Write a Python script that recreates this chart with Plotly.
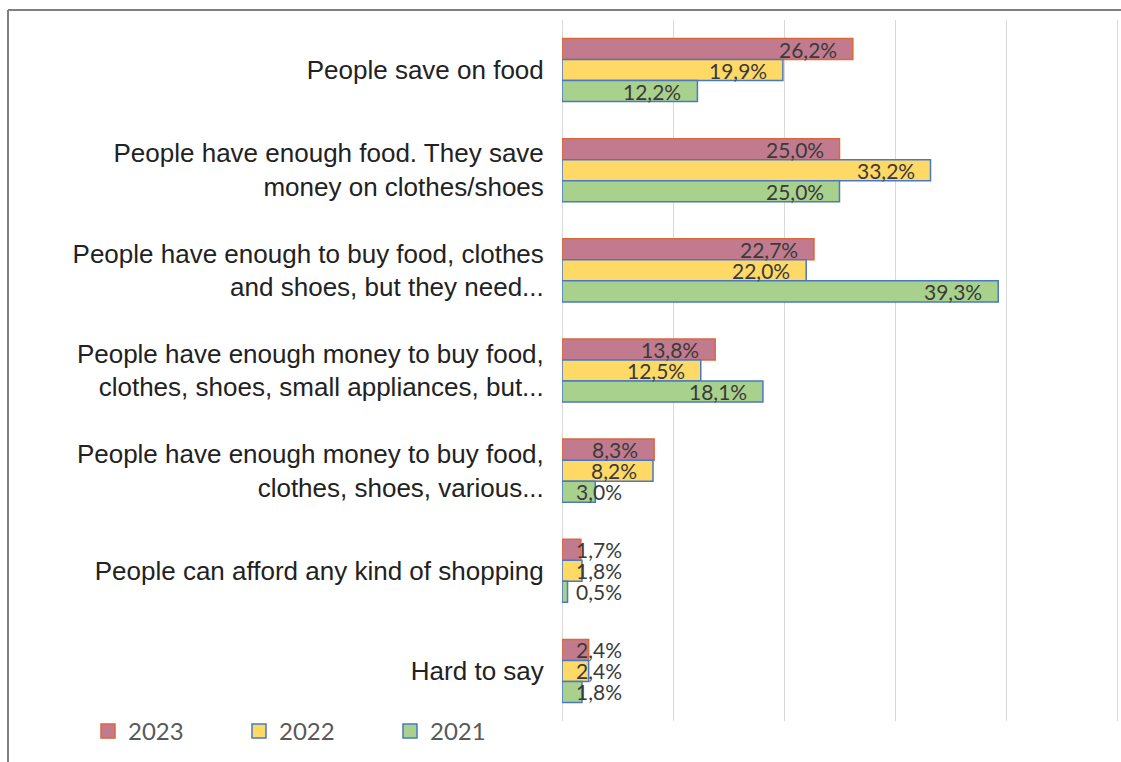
import plotly.graph_objects as go

categories = [
    "People save on food",
    "People have enough food. They save<br>money on clothes/shoes",
    "People have enough to buy food, clothes<br>and shoes, but they need...",
    "People have enough money to buy food,<br>clothes, shoes, small appliances, but...",
    "People have enough money to buy food,<br>clothes, shoes, various...",
    "People can afford any kind of shopping",
    "Hard to say",
]
series_names = ["2023", "2022", "2021"]
values_2023 = [26.2, 25.0, 22.7, 13.8, 8.3, 1.7, 2.4]
values_2022 = [19.9, 33.2, 22.0, 12.5, 8.2, 1.8, 2.4]
values_2021 = [12.2, 25.0, 39.3, 18.1, 3.0, 0.5, 1.8]

series_values = [values_2023, values_2022, values_2021]
fills = ["#C27B8E", "#FFD966", "#A9D18E"]
outlines = ["#D9683A", "#4A78C2", "#4A78C2"]
yshifts = [21, 0, -21]

W, H = 1121, 762
L, R, T, B = 562, 0, 20, 41
px_per_unit = 11.1
xmax = (W - L - R) / px_per_unit

fig = go.Figure()
for name, vals, fc, lc in zip(series_names, series_values, fills, outlines):
    fig.add_trace(go.Bar(
        y=categories, x=vals, name=name, orientation="h",
        marker=dict(color=fc, line=dict(color=lc, width=1.5)),
        hoverinfo="skip", showlegend=False,
    ))
# legend-only entries with larger square swatches
for name, fc, lc in zip(series_names, fills, outlines):
    fig.add_trace(go.Scatter(
        x=[None], y=[None], mode="markers", name=name,
        marker=dict(symbol="square", size=14, color=fc, line=dict(color=lc, width=1.5)),
        hoverinfo="skip", showlegend=True,
    ))

annotations = []
for vals, ys in zip(series_values, yshifts):
    for cat, v in zip(categories, vals):
        label = f"{v:.1f}".replace(".", ",") + "%"
        if v < 5:
            annotations.append(dict(x=0, y=cat, xref="x", yref="y", text=label,
                                    showarrow=False, xanchor="left", xshift=12,
                                    yshift=ys, font=dict(family="Lato", size=21, color="#3A3A3A")))
        else:
            annotations.append(dict(x=v, y=cat, xref="x", yref="y", text=label,
                                    showarrow=False, xanchor="right", xshift=-14,
                                    yshift=ys, font=dict(family="Lato", size=21, color="#3A3A3A")))

plot_w = W - L - R
plot_h = H - T - B
x0p = (8 - L) / plot_w
y0p = 1 + (T - 10) / plot_h

fig.update_layout(
    width=W, height=H,
    margin=dict(l=L, r=R, t=T, b=B, pad=0, autoexpand=False),
    paper_bgcolor="white", plot_bgcolor="white",
    barmode="group", bargap=0.37, bargroupgap=0,
    showlegend=True,
    legend=dict(orientation="h", xref="container", yref="container",
                x=0.0785, y=0.04, xanchor="left", yanchor="middle",
                entrywidth=106, entrywidthmode="pixels",
                font=dict(family="Lato", size=24, color="#595959"),
                traceorder="normal"),
    xaxis=dict(range=[0, xmax], showgrid=True, gridcolor="#D9D9D9", gridwidth=1,
               dtick=10, showticklabels=False, zeroline=True, zerolinecolor="#D9D9D9",
               zerolinewidth=1, showline=False, fixedrange=True),
    yaxis=dict(autorange="reversed", showgrid=False, showline=False,
               ticks="outside", ticklen=12, tickcolor="rgba(0,0,0,0)",
               tickfont=dict(family="Liberation Sans", size=26, color="#222222")),
    annotations=annotations,
    shapes=[
        dict(type="line", xref="paper", yref="paper", x0=x0p, x1=1.01, y0=y0p, y1=y0p,
             line=dict(color="#7F7F7F", width=2)),
        dict(type="line", xref="paper", yref="paper", x0=x0p, x1=x0p, y0=y0p, y1=-0.2,
             line=dict(color="#7F7F7F", width=2)),
    ],
)

fig.write_html("out.html")
